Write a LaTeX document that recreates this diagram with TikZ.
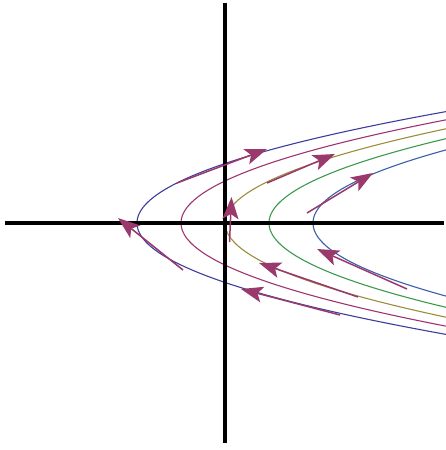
\documentclass[tikz,border=0pt]{standalone}
\usetikzlibrary{arrows.meta}
\definecolor{cA}{HTML}{3D3D9E}
\definecolor{cB}{HTML}{9E356E}
\definecolor{cC}{HTML}{9C8D3C}
\definecolor{cD}{HTML}{3B9A4E}
\definecolor{cE}{HTML}{3B5EA8}
\definecolor{arrowc}{HTML}{9A3A6C}
\begin{document}
\begin{tikzpicture}[x=1pt,y=-1pt,
  curve/.style={line width=1.1pt},
  axis/.style={line width=4pt,black},
  vec/.style={draw=arrowc,fill=arrowc,line width=1.5pt,-{Stealth[length=22pt,width=16pt,inset=5pt]}}]
\useasboundingbox (0,0) rectangle (446,450);
\begin{scope}
\clip (0,0) rectangle (446,450);
\foreach \xo/\c in {137/cA,181/cB,225/cC,269/cD,313/cE}
  \draw[curve,\c,domain=-125:125,samples=161,smooth,variable=\t] plot ({\xo+0.0249*\t*\t},{223+\t});
\end{scope}
\coordinate (xl) at (5,223);
\coordinate (xr) at (444,223);
\coordinate (yt) at (225,3);
\coordinate (yb) at (225,443);
\draw[axis] (xl) -- (xr);
\draw[axis] (yt) -- (yb);
\coordinate (a1s) at (183,270); \coordinate (a1e) at (118,218);
\coordinate (a2s) at (177,183); \coordinate (a2e) at (267,149);
\coordinate (a3s) at (229.5,242); \coordinate (a3e) at (231.5,197);
\coordinate (a4s) at (267,183); \coordinate (a4e) at (335,154);
\coordinate (a5s) at (307,213); \coordinate (a5e) at (373,173);
\coordinate (a6s) at (407,289); \coordinate (a6e) at (317,249);
\coordinate (a7s) at (358,297); \coordinate (a7e) at (259,263);
\coordinate (a8s) at (340,315); \coordinate (a8e) at (241,289);
\foreach \i in {1,...,8}
  \draw[vec] (a\i s) -- (a\i e);
\end{tikzpicture}
\end{document}
